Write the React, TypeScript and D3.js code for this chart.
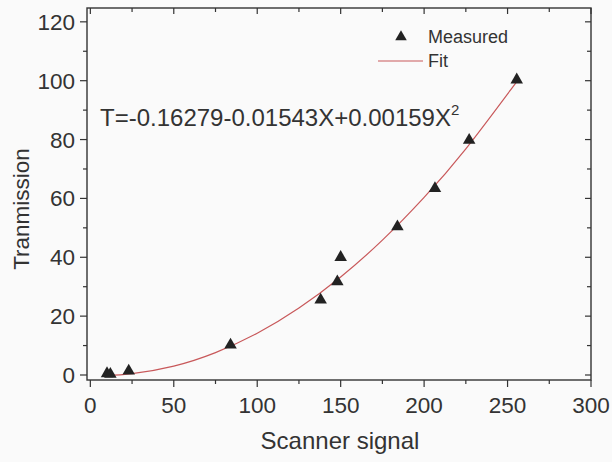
import React from "react";
import * as d3 from "d3";

const measuredX = [10, 12, 23, 84, 138, 148, 150, 184, 206.5, 227, 255.5];
const measuredY = [0.5, 0.3, 1.4, 10.2, 25.5, 31.7, 40.0, 50.4, 63.4, 79.8, 100.3];

const fitX = [10, 25, 50, 75, 100, 125, 150, 175, 200, 225, 255];
const fitY = [-0.16, 0.45, 3.04, 7.62, 14.19, 22.75, 33.3, 45.83, 60.35, 76.86, 99.3];

const xMajor = [0, 50, 100, 150, 200, 250, 300];
const xMinor = [25, 75, 125, 175, 225, 275];
const yMajor = [0, 20, 40, 60, 80, 100, 120];
const yMinor = [10, 30, 50, 70, 90, 110];

const W = 612;
const H = 462;
const L = 87, R = 591, T = 8, B = 380;
const FONT = "'Liberation Sans', Arial, sans-serif";
const INK = "#333";
const FIT = "#c8585a";

export default function App() {
  const x = d3.scaleLinear().domain([-2, 300]).range([L, R]);
  const y = d3.scaleLinear().domain([-1.7, 124.7]).range([B, T]);
  const line = d3
    .line<number>()
    .x((_, i) => x(fitX[i]))
    .y((d) => y(d))
    .curve(d3.curveNatural);
  const tri = d3.symbol().type(d3.symbolTriangle).size(68)();
  const triLeg = d3.symbol().type(d3.symbolTriangle).size(58)();

  return (
    <svg
      width={W}
      height={H}
      style={{ position: "absolute", left: 0, top: 0, background: "#fafafa" }}
      fontFamily={FONT}
    >
      <rect x={L} y={T} width={R - L} height={B - T} fill="none" stroke={INK} strokeWidth={1.4} />
      {/* bottom ticks (outward) */}
      {xMajor.map((v) => (
        <line key={"bx" + v} x1={x(v)} x2={x(v)} y1={B} y2={B + 7} stroke={INK} strokeWidth={1.2} />
      ))}
      {xMinor.map((v) => (
        <line key={"bm" + v} x1={x(v)} x2={x(v)} y1={B} y2={B + 4} stroke={INK} strokeWidth={1.2} />
      ))}
      {/* top ticks (inward) */}
      {xMajor.map((v) => (
        <line key={"tx" + v} x1={x(v)} x2={x(v)} y1={T} y2={T + 6} stroke={INK} strokeWidth={1.2} />
      ))}
      {xMinor.map((v) => (
        <line key={"tm" + v} x1={x(v)} x2={x(v)} y1={T} y2={T + 4} stroke={INK} strokeWidth={1.2} />
      ))}
      {/* left ticks (outward) */}
      {yMajor.map((v) => (
        <line key={"ly" + v} x1={L - 7} x2={L} y1={y(v)} y2={y(v)} stroke={INK} strokeWidth={1.2} />
      ))}
      {yMinor.map((v) => (
        <line key={"lm" + v} x1={L - 4} x2={L} y1={y(v)} y2={y(v)} stroke={INK} strokeWidth={1.2} />
      ))}
      {/* right ticks (inward) */}
      {yMajor.map((v) => (
        <line key={"ry" + v} x1={R - 6} x2={R} y1={y(v)} y2={y(v)} stroke={INK} strokeWidth={1.2} />
      ))}
      {yMinor.map((v) => (
        <line key={"rm" + v} x1={R - 4} x2={R} y1={y(v)} y2={y(v)} stroke={INK} strokeWidth={1.2} />
      ))}
      {/* tick labels */}
      {xMajor.map((v) => (
        <text key={"xl" + v} x={x(v)} y={413} textAnchor="middle" fontSize={22.5} fill={INK}>
          {v}
        </text>
      ))}
      {yMajor.map((v) => (
        <text key={"yl" + v} x={L - 12} y={y(v) + 8} textAnchor="end" fontSize={22.5} fill={INK}>
          {v}
        </text>
      ))}
      {/* axis titles */}
      <text x={(L + R) / 2 + 1} y={449} textAnchor="middle" fontSize={24} fill={INK}>
        Scanner signal
      </text>
      <text
        transform={`translate(29, ${(T + B) / 2 + 15}) rotate(-90)`}
        textAnchor="middle"
        fontSize={22.5}
        fill={INK}
      >
        Tranmission
      </text>
      {/* fit curve */}
      <path d={line(fitY) || ""} fill="none" stroke={FIT} strokeWidth={1.2} />
      {/* measured */}
      {measuredX.map((v, i) => (
        <path
          key={"m" + i}
          d={tri || ""}
          transform={`translate(${x(v)}, ${y(measuredY[i])})`}
          fill="#222"
        />
      ))}
      {/* equation */}
      <text x={100} y={126} fontSize={24} fill={INK}>
        T=-0.16279-0.01543X+0.00159X
        <tspan dy={-11} fontSize={15}>
          2
        </tspan>
      </text>
      {/* legend */}
      <path d={triLeg || ""} transform="translate(401, 37)" fill="#222" />
      <text x={428} y={43} fontSize={18} fill={INK}>
        Measured
      </text>
      <line x1={378} x2={423} y1={61} y2={61} stroke={FIT} strokeWidth={1.2} />
      <text x={428} y={67} fontSize={18} fill={INK}>
        Fit
      </text>
    </svg>
  );
}
